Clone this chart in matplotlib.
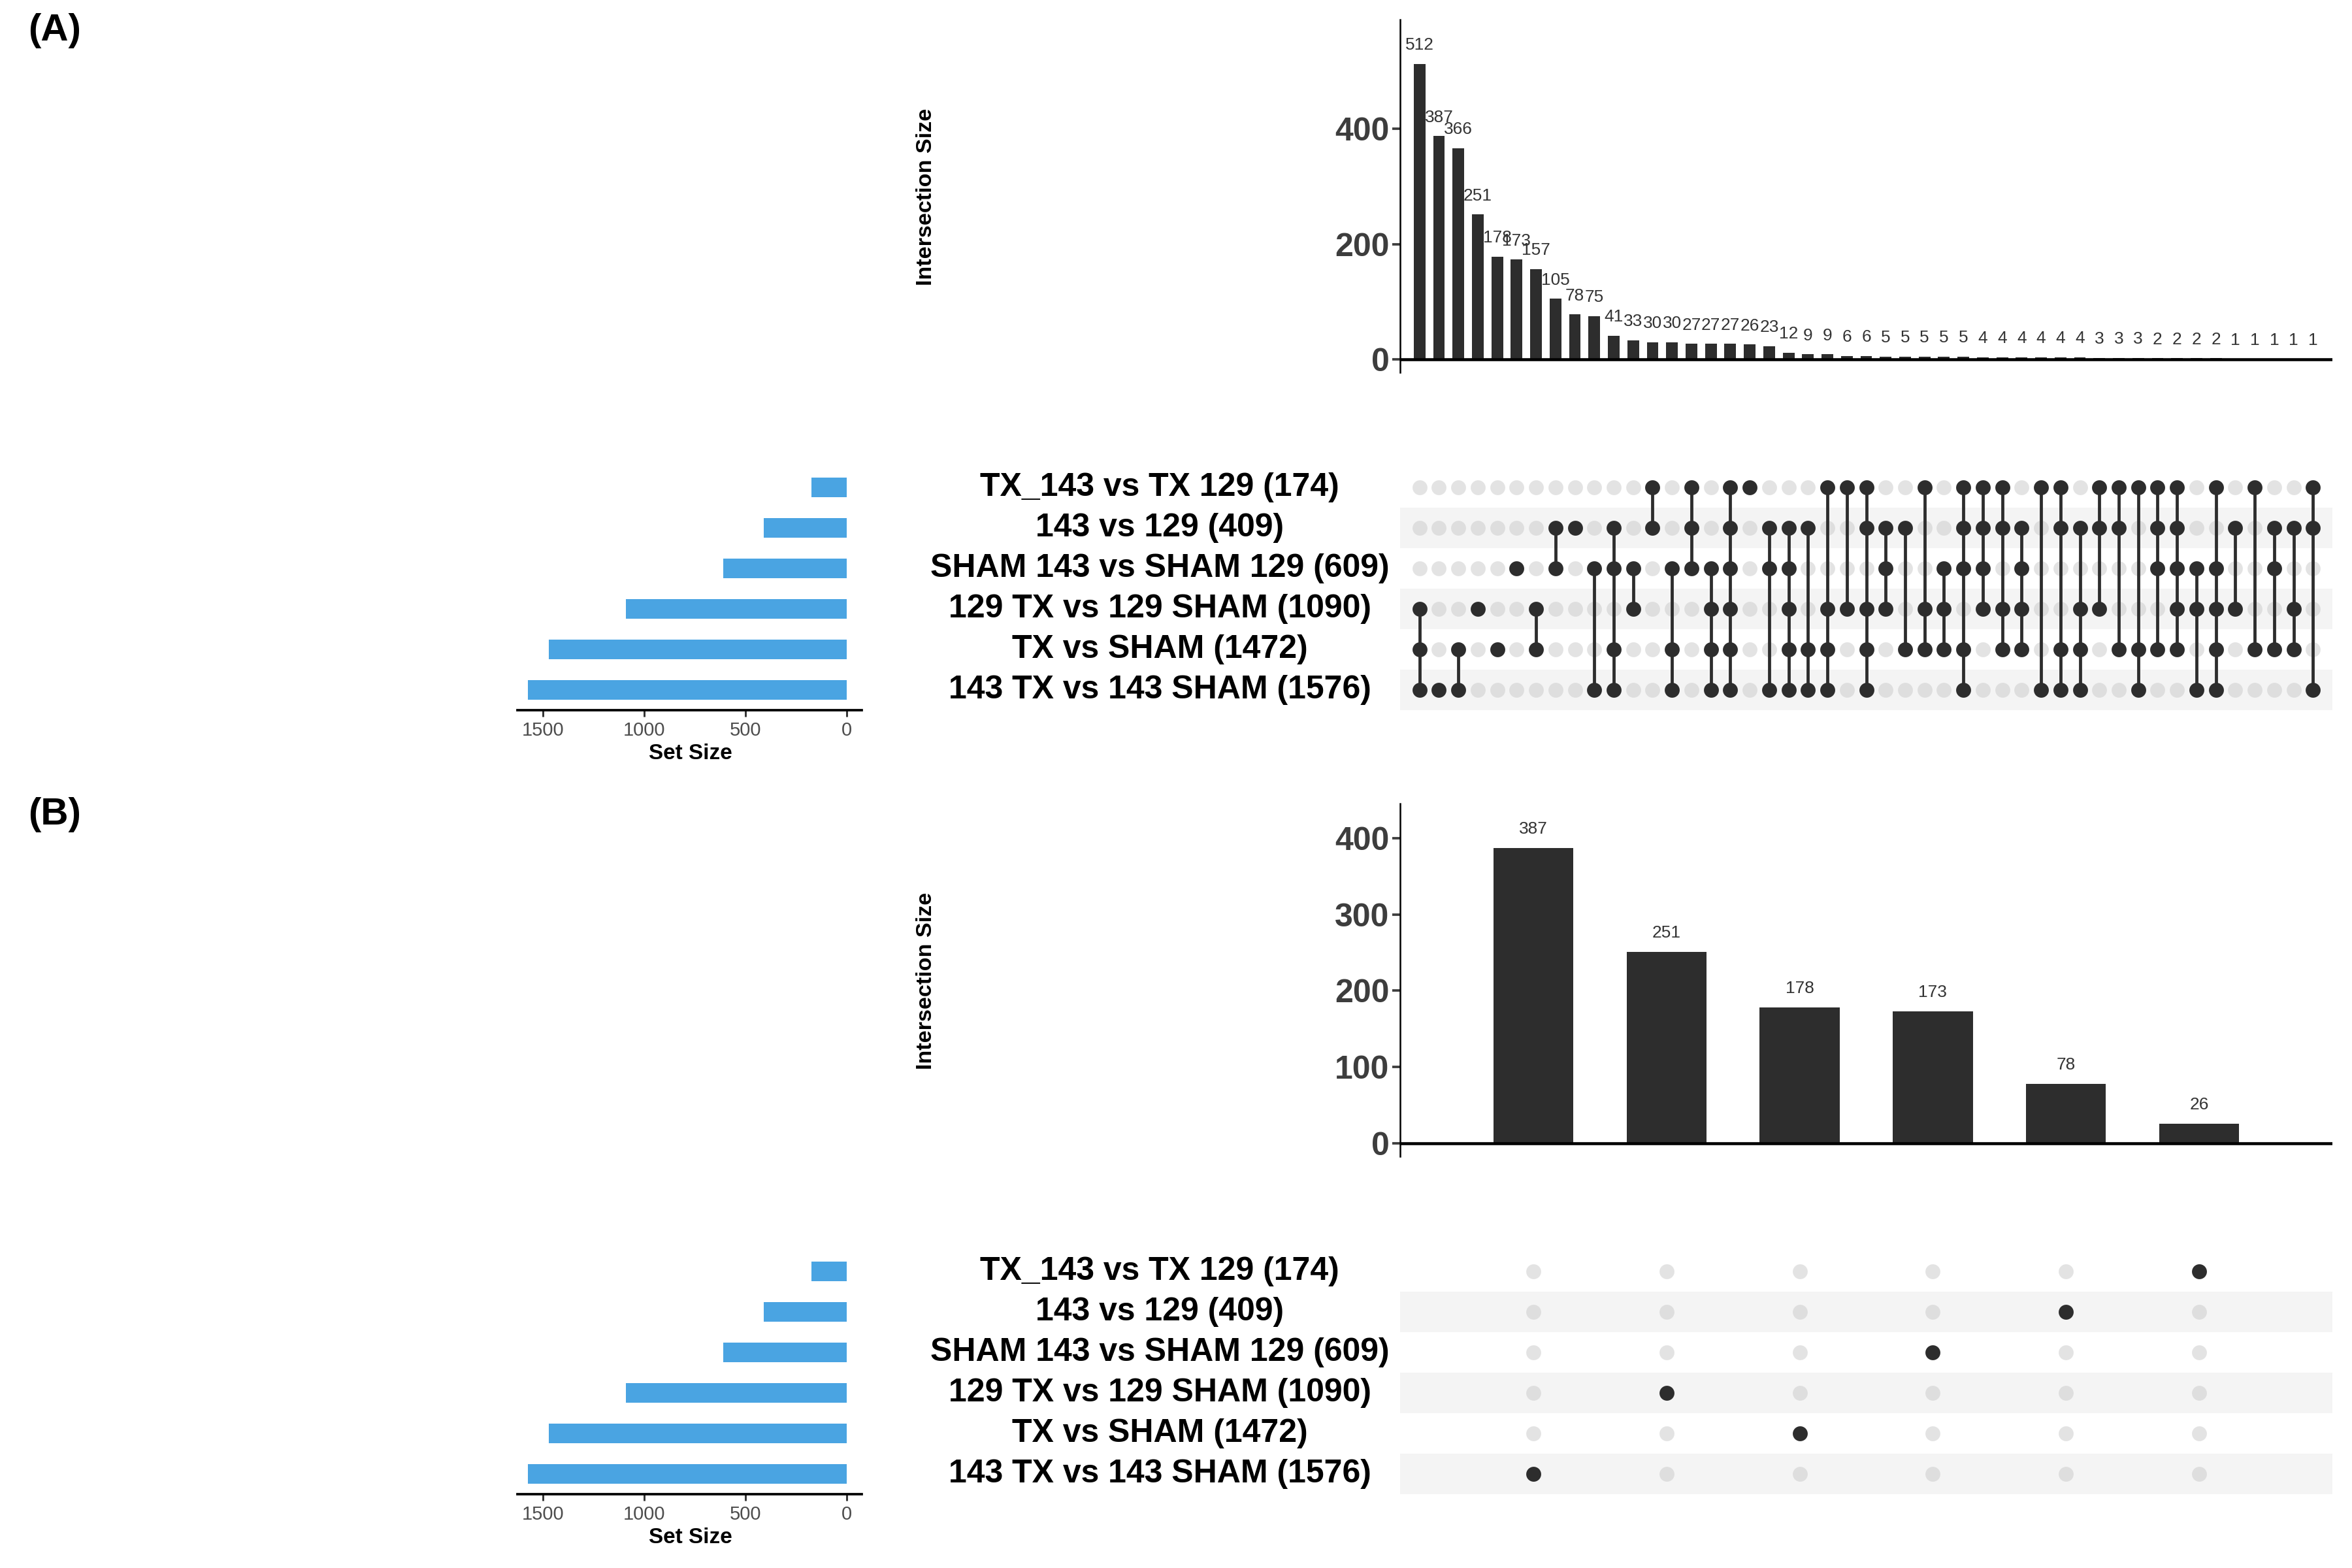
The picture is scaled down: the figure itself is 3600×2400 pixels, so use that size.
import matplotlib
matplotlib.use('Agg')
import matplotlib.pyplot as plt
import matplotlib.transforms as mtransforms

plt.rcParams['font.family'] = ['Liberation Sans', 'DejaVu Sans']

# sets, top row first
set_names = ['TX_143 vs TX 129', '143 vs 129', 'SHAM 143 vs SHAM 129',
             '129 TX vs 129 SHAM', 'TX vs SHAM', '143 TX vs 143 SHAM']
set_sizes = [174, 409, 609, 1090, 1472, 1576]

# panel A: all intersections (row indices of the sets in each one)
inter_a_sizes = [512, 387, 366, 251, 178, 173, 157, 105, 78, 75,
                 41, 33, 30, 30, 27, 27, 27, 26, 23, 12,
                 9, 9, 6, 6, 5, 5, 5, 5, 5, 4,
                 4, 4, 4, 4, 4, 3, 3, 3, 2, 2,
                 2, 2, 1, 1, 1, 1, 1]
inter_a_sets = [[3, 4, 5], [5], [4, 5], [3], [4], [2], [3, 4], [1, 2], [1], [2, 5],
                [1, 2, 4, 5], [2, 3], [0, 1], [2, 4, 5], [0, 1, 2], [2, 3, 4, 5],
                [0, 1, 2, 3, 4, 5], [0], [1, 2, 5], [1, 2, 3, 4, 5],
                [1, 4, 5], [0, 3, 4, 5], [0, 3], [0, 1, 3, 4, 5], [1, 2, 3], [1, 4],
                [0, 3, 4], [2, 3, 4], [0, 1, 2, 4, 5], [0, 1, 2, 3],
                [0, 1, 3, 4], [1, 2, 3, 4], [0, 5], [0, 1, 4, 5], [1, 3, 4, 5],
                [0, 1, 3], [0, 1, 4], [0, 4, 5], [0, 1, 2, 4], [0, 1, 2, 3, 4],
                [2, 3, 5], [0, 2, 3, 4, 5], [1, 3], [0, 4], [1, 2, 4], [1, 3, 4],
                [0, 1, 5]]
a_ticks = [0, 200, 400]

# panel B: unique to one set
inter_b_sizes = [387, 251, 178, 173, 78, 26]
inter_b_sets = [[5], [3], [4], [2], [1], [0]]
b_ticks = [0, 100, 200, 300, 400]

size_ticks = [1500, 1000, 500, 0]

DARK = '#2d2d2d'
BLUE = '#4aa4e2'
W, H = 3600, 2400

fig = plt.figure(figsize=(12, 8), dpi=300)


def fx(x):
    return x / W


def fy(y):
    return 1 - y / H


def panel(top, sizes, members, yticks, tag):
    n = len(sizes)
    xs = list(range(1, n + 1))

    # intersection size bars
    ax_bar = fig.add_axes([fx(2143), fy(top + 570), (3570 - 2143) / W, 540 / H])
    ymax = max(sizes) * 1.15
    ax_bar.bar(xs, sizes, width=0.6, color=DARK, zorder=2)
    for x, v in zip(xs, sizes):
        ax_bar.annotate(str(v), (x, v), xytext=(0, 4), textcoords='offset points',
                        ha='center', va='bottom', fontsize=6.3, color='#333333')
    ax_bar.set_xlim(0, n + 1)
    ax_bar.set_ylim(-0.038 * ymax, ymax)
    ax_bar.axhline(0, color='black', lw=1.1, zorder=3)
    for s in ['top', 'right', 'bottom']:
        ax_bar.spines[s].set_visible(False)
    ax_bar.spines['left'].set_linewidth(0.6)
    ax_bar.set_xticks([])
    ax_bar.set_yticks(yticks)
    ax_bar.set_yticklabels([str(t) for t in yticks], fontsize=12,
                           fontweight='bold', color='#3d3d3d')
    ax_bar.tick_params(axis='y', length=3, width=0.9, color='#3d3d3d', pad=1)

    # matrix
    ax_m = fig.add_axes([fx(2143), fy(top + 1087), (3570 - 2143) / W, 372 / H])
    ax_m.set_xlim(0, n + 1)
    ax_m.set_ylim(5.5, -0.5)
    for r in (1, 3, 5):
        ax_m.axhspan(r - 0.5, r + 0.5, color='#f4f4f4', zorder=0, lw=0)
    for x in xs:
        ax_m.scatter([x] * 6, range(6), s=30, color='#c9c9c9', alpha=0.5,
                     lw=0, zorder=1)
    for x, mem in zip(xs, members):
        if len(mem) > 1:
            ax_m.plot([x, x], [min(mem), max(mem)], color=DARK, lw=1.15,
                      solid_capstyle='butt', zorder=2)
        ax_m.scatter([x] * len(mem), mem, s=30, color=DARK, lw=0, zorder=3)
    ax_m.axis('off')

    trans = mtransforms.blended_transform_factory(fig.transFigure, ax_m.transData)
    for i, (name, size) in enumerate(zip(set_names, set_sizes)):
        ax_m.text(fx(1775), i, f'{name} ({size})', transform=trans,
                  ha='center', va='center', fontsize=12, fontweight='bold')

    # set size bars
    ax_s = fig.add_axes([fx(792), fy(top + 1087), (1319 - 792) / W, 372 / H])
    ax_s.barh(range(6), set_sizes, height=0.47, color=BLUE)
    ax_s.set_xlim(1627, -74)
    ax_s.set_ylim(5.5, -0.5)
    for s in ['top', 'right', 'left']:
        ax_s.spines[s].set_visible(False)
    ax_s.spines['bottom'].set_linewidth(0.9)
    ax_s.set_yticks([])
    ax_s.set_xticks(size_ticks)
    ax_s.set_xticklabels([str(t) for t in size_ticks], fontsize=7, color='#4d4d4d')
    ax_s.tick_params(axis='x', length=2.5, width=0.7, color='#333333', pad=1.5)

    fig.text(fx(1057), fy(top + 1153), 'Set Size', ha='center', va='center',
             fontsize=8, fontweight='bold')
    fig.text(fx(1417), fy(top + 301), 'Intersection Size', rotation=90,
             ha='center', va='center', fontsize=8.2, fontweight='bold')
    fig.text(fx(43), fy(top + 20), tag, ha='left', va='top',
             fontsize=14, fontweight='bold')


panel(0, inter_a_sizes, inter_a_sets, a_ticks, '(A)')
panel(1200, inter_b_sizes, inter_b_sets, b_ticks, '(B)')

fig.savefig('out.png', dpi=300)
